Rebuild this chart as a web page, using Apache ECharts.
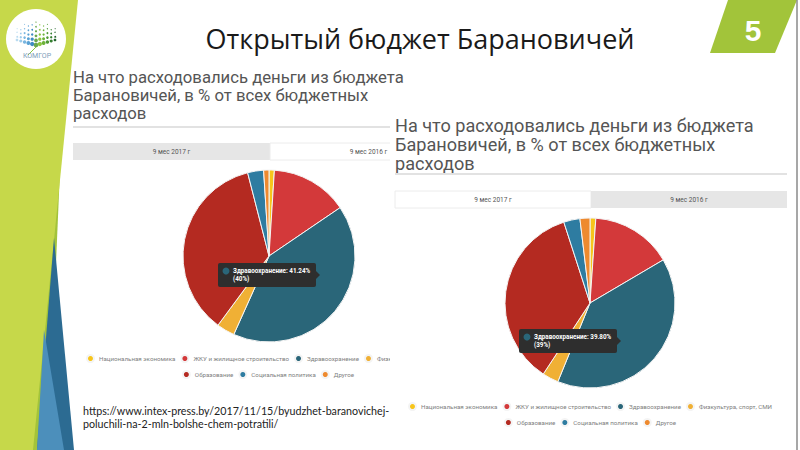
<!DOCTYPE html>
<html>
<head>
<meta charset="utf-8">
<script src="https://cdn.jsdelivr.net/npm/echarts@6/dist/echarts.min.js"></script>
<style>
html, body { margin: 0; padding: 0; background: #fff; }
#slide { position: absolute; left: 0; top: 0; width: 800px; height: 450px; }
#chart2016 { position: absolute; left: 62px; top: 65px; width: 412px; height: 375px; }
#chart2017 { position: absolute; left: 390px; top: 113px; width: 400px; height: 327px; }
</style>
</head>
<body>
<div id="slide"></div>
<div id="chart2016"></div>
<div id="chart2017"></div>
<script>
// data
var categories = [
    'Национальная экономика',
    'ЖКУ и жилищное строительство',
    'Здравоохранение',
    'Физкультура, спорт, СМИ',
    'Образование',
    'Социальная политика',
    'Другое'
];
var colors = ['#f7c51b', '#d3393a', '#2a6679', '#f0b035', '#b42a21', '#2e7ca1', '#ee8a2f'];
var values2016 = [1.0, 14.5, 41.24, 3.4, 35.9, 3.0, 1.0];
var values2017 = [1.1, 15.5, 39.8, 3.1, 35.9, 3.1, 1.9];
var tabLabels = ['9 мес 2017 г', '9 мес 2016 г'];
var chartTitle = ['На что расходовались деньги из бюджета', 'Барановичей, в % от всех бюджетных', 'расходов'];
var tipShare2016 = '(40%)';
var tipShare2017 = '(39%)';
var slideTitle = 'Открытый бюджет Барановичей';
var slideNumber = '5';
var sourceUrl = ['https://www.intex-press.by/2017/11/15/byudzhet-baranovichej-', 'poluchili-na-2-mln-bolshe-chem-potratili/'];

var legendRow1 = categories.slice(0, 4);
var legendRow2 = categories.slice(4);
var tipIndex = 2;

// ---------- slide background ----------
// logo: a dome of dotted columns, blue on the left, green on the right
var logoDots = [];
var dotColors = ['#b9dbf0', '#9ccbea', '#7ab6e0', '#5aa2d4', '#3f8cc4', '#6aa84f',
                 '#8cc63f', '#6db23a', '#4e9a35', '#357f30', '#22622b'];
for (var i = 0; i < 11; i++) {
    var off = Math.abs(i - 5);
    var colX = 17 + i * 3.8;
    var colTop = 13 + off * 2.3;
    var colBottom = 45 - off * 1.0;
    var n = 8 - Math.round(off * 0.6);
    for (var k = 0; k < n; k++) {
        var t = k / (n - 1);
        logoDots.push({
            type: 'circle',
            shape: { cx: colX, cy: colTop + (colBottom - colTop) * t, r: 0.45 + (1.9 - off * 0.2) * t * t },
            style: { fill: dotColors[i] }
        });
    }
}

var slide = echarts.init(document.getElementById('slide'), null, { renderer: 'svg' });
slide.setOption({
    animation: false,
    graphic: [
        { type: 'polygon', shape: { points: [[60, 170], [48, 450], [28, 450]] }, style: { fill: '#a3c33a' } },
        { type: 'polygon', shape: { points: [[0, 0], [78, 0], [33, 450], [0, 450]] }, style: { fill: '#c6d84a' } },
        { type: 'polygon', shape: { points: [[54, 238], [74, 450], [37, 450]] }, style: { fill: '#2c6b92' } },
        { type: 'polygon', shape: { points: [[44, 330], [64, 450], [37, 450]] }, style: { fill: '#4c8fbb' } },
        { type: 'circle', shape: { cx: 36, cy: 39, r: 30 }, style: { fill: '#fff' } },
        { type: 'group', children: logoDots },
        { type: 'line', shape: { x1: 36, y1: 47, x2: 28, y2: 55 }, style: { stroke: '#8cc63f', lineWidth: 1 } },
        {
            type: 'text', x: 37, y: 56,
            style: { text: 'КОМГОР', fill: '#7d9db9', fontSize: 7, fontFamily: 'Roboto', align: 'center', verticalAlign: 'middle' }
        },
        {
            type: 'text', x: 420, y: 38,
            style: { text: slideTitle, fill: '#1a1a1a', fontSize: 27, fontFamily: 'Open Sans', align: 'center', verticalAlign: 'middle' }
        },
        { type: 'polygon', shape: { points: [[728, 0], [797, 0], [775, 53], [710, 53]] }, style: { fill: '#a2c43a' } },
        {
            type: 'text', x: 753, y: 30,
            style: { text: slideNumber, fill: '#fff', fontSize: 30, fontWeight: 'bold', fontFamily: 'Liberation Sans', align: 'center', verticalAlign: 'middle' }
        },
        { type: 'line', shape: { x1: 797, y1: 0, x2: 797, y2: 450 }, style: { stroke: '#8a8a8a', lineWidth: 1.5 } },
        {
            type: 'text', x: 83, y: 410,
            style: { text: sourceUrl[0], fill: '#222', fontSize: 10.7, fontFamily: 'Lato', verticalAlign: 'middle' }
        },
        {
            type: 'text', x: 83, y: 423,
            style: { text: sourceUrl[1], fill: '#222', fontSize: 10.7, fontFamily: 'Lato', verticalAlign: 'middle' }
        }
    ]
});

// ---------- one screenshot of the budget widget ----------
function widgetOption(values, activeTab, p) {
    var g = [];
    chartTitle.forEach(function (line, i) {
        g.push({
            type: 'text', x: p.textX, y: p.titleY + i * p.lineH,
            style: { text: line, fill: '#555', fontSize: p.titleSize, fontFamily: 'Roboto', verticalAlign: 'middle' }
        });
    });
    g.push({ type: 'rect', shape: { x: p.textX, y: p.ruleY, width: p.tabW * 2, height: 2 }, style: { fill: '#e2e2e2' } });
    tabLabels.forEach(function (lab, i) {
        var x = p.textX + i * p.tabW;
        g.push({
            type: 'rect', shape: { x: x, y: 78, width: p.tabW, height: 17 },
            style: i === activeTab ? { fill: '#fff', stroke: '#ececec', lineWidth: 1 } : { fill: '#e6e6e6' }
        });
        g.push({
            type: 'text', x: x + p.tabW / 2, y: 86.5,
            style: { text: lab, fill: '#555', fontSize: 6.5, fontFamily: 'Roboto', align: 'center', verticalAlign: 'middle' }
        });
    });
    // hovered slice tooltip
    var tx = p.tip[0], ty = p.tip[1];
    g.push({ type: 'rect', z: 100, shape: { x: tx, y: ty, width: 98, height: 24, r: 2 }, style: { fill: '#2e2e2e' } });
    g.push({ type: 'polygon', z: 100, shape: { points: [[tx + 98, ty + 8], [tx + 102, ty + 12], [tx + 98, ty + 16]] }, style: { fill: '#2e2e2e' } });
    g.push({ type: 'circle', z: 101, shape: { cx: tx + 8, cy: ty + 8, r: 3.5 }, style: { fill: colors[tipIndex] } });
    g.push({
        type: 'text', z: 101, x: tx + 15, y: ty + 8,
        style: { text: categories[tipIndex] + ': ' + values[tipIndex].toFixed(2) + '%', fill: '#fff', fontSize: 6.3, fontWeight: 'bold', fontFamily: 'Roboto', verticalAlign: 'middle' }
    });
    g.push({
        type: 'text', z: 101, x: tx + 15, y: ty + 16,
        style: { text: p.share, fill: '#fff', fontSize: 6.3, fontWeight: 'bold', fontFamily: 'Roboto', verticalAlign: 'middle' }
    });

    var legendBase = {
        left: 'center', icon: 'circle', itemWidth: 7, itemHeight: 7, itemGap: 5, padding: 0, width: 420,
        selectedMode: false, textStyle: { fontSize: 6.2, color: '#808080', fontFamily: 'Roboto' }
    };
    return {
        animation: false,
        backgroundColor: p.bg,
        color: colors,
        legend: [
            Object.assign({}, legendBase, { data: legendRow1, top: 289 }),
            Object.assign({}, legendBase, { data: legendRow2, top: 305 })
        ],
        graphic: g,
        series: [{
            type: 'pie',
            center: p.center,
            radius: p.radius,
            startAngle: 90,
            silent: true,
            label: { show: false },
            labelLine: { show: false },
            itemStyle: { borderColor: '#f4f4f4', borderWidth: 1 },
            data: categories.map(function (name, i) { return { name: name, value: values[i] }; })
        }]
    };
}

var c2016 = echarts.init(document.getElementById('chart2016'), null, { renderer: 'svg' });
c2016.setOption(widgetOption(values2016, 1, {
    bg: 'transparent', textX: 11, titleY: 12, lineH: 18, titleSize: 16.7, ruleY: 61, tabW: 197,
    center: [207, 191], radius: 86, tip: [156, 198], share: tipShare2016
}));

var c2017 = echarts.init(document.getElementById('chart2017'), null, { renderer: 'svg' });
c2017.setOption(widgetOption(values2017, 0, {
    bg: '#fff', textX: 5, titleY: 12, lineH: 19, titleSize: 18.1, ruleY: 60, tabW: 196,
    center: [200, 190], radius: 85, tip: [129, 216], share: tipShare2017
}));
</script>
</body>
</html>
